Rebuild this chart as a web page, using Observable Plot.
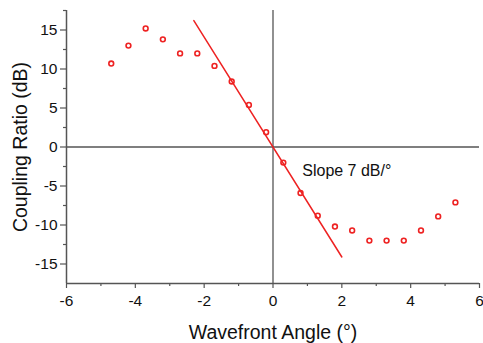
<!DOCTYPE html>
<html>
<head>
<meta charset="utf-8">
<script src="https://cdn.jsdelivr.net/npm/d3@7"></script>
<script src="https://cdn.jsdelivr.net/npm/@observablehq/plot@0.6"></script>
<style>
  html, body { margin: 0; padding: 0; background: #fff; }
  #chart svg { font-family: Arial, "Liberation Sans", sans-serif; }
</style>
</head>
<body>
<div id="chart"></div>
<script>
// Measured points
const angle = [-4.7, -4.2, -3.7, -3.2, -2.7, -2.2, -1.7, -1.2, -0.7, -0.2, 0.3, 0.8, 1.3, 1.8, 2.3, 2.8, 3.3, 3.8, 4.3, 4.8, 5.3];
const ratio = [10.7, 13.0, 15.2, 13.8, 12.0, 12.0, 10.4, 8.4, 5.4, 1.9, -2.0, -5.9, -8.8, -10.2, -10.7, -12.0, -12.0, -12.0, -10.7, -8.9, -7.1];
// Linear fit (slope 7 dB/°)
const fitX = [-2.3, 2.0];
const fitY = [16.2, -14.1];
// Axis ticks
const xTicks = [-6, -4, -2, 0, 2, 4, 6];
const xMinor = [-5, -3, -1, 1, 3, 5];
const yTicks = [-15, -10, -5, 0, 5, 10, 15];
const yMinor = [-12.5, -7.5, -2.5, 2.5, 7.5, 12.5, 17.5];
const annotation = "Slope 7 dB/°";

const points = angle.map((a, i) => ({x: a, y: ratio[i]}));
const fit = fitX.map((a, i) => ({x: a, y: fitY[i]}));
const axisColor = "#555";
const textColor = "#111";
const red = "#ee2222";
const fmt = d => String(d);

const chart = Plot.plot({
  width: 483,
  height: 343,
  marginLeft: 66,
  marginRight: 4,
  marginTop: 10,
  marginBottom: 60,
  style: {fontSize: "15px", fontFamily: "Arial, 'Liberation Sans', sans-serif", color: textColor},
  x: {domain: [-6, 6]},
  y: {domain: [-17.5, 17.5]},
  marks: [
    Plot.ruleX([0], {stroke: axisColor, strokeWidth: 1.3}),
    Plot.ruleY([0], {stroke: axisColor, strokeWidth: 1.3}),
    Plot.axisX({ticks: xTicks, tickFormat: fmt, tickSize: 5, tickPadding: 6, stroke: axisColor, strokeWidth: 1.2, fill: textColor, fontSize: 15.5, label: null}),
    Plot.axisX({ticks: xMinor, tickSize: 3, text: null, stroke: axisColor, strokeWidth: 1.2, label: null}),
    Plot.axisY({ticks: yTicks, tickFormat: fmt, tickSize: 6, tickPadding: 3, stroke: axisColor, strokeWidth: 1.2, fill: textColor, fontSize: 15.5, label: null}),
    Plot.axisY({ticks: yMinor, tickSize: 3, text: null, stroke: axisColor, strokeWidth: 1.2, label: null}),
    Plot.ruleX([-6], {stroke: axisColor, strokeWidth: 1.5}),
    Plot.ruleY([-17.5], {stroke: axisColor, strokeWidth: 1.5}),
    Plot.text(["Wavefront Angle (°)"], {frameAnchor: "bottom", dy: 55, fontSize: 19.5, fill: textColor}),
    Plot.text(["Coupling Ratio (dB)"], {frameAnchor: "left", textAnchor: "middle", dx: -46, rotate: -90, fontSize: 19.5, fill: textColor}),
    Plot.line(fit, {x: "x", y: "y", stroke: red, strokeWidth: 1.5}),
    Plot.dot(points, {x: "x", y: "y", r: 2.4, stroke: red, strokeWidth: 1.6, fill: "none"}),
    Plot.text([{x: 0.85, y: -3.0}], {x: "x", y: "y", text: () => annotation, textAnchor: "start", fontSize: 16, fill: textColor})
  ]
});
document.getElementById("chart").appendChild(chart);
</script>
</body>
</html>
